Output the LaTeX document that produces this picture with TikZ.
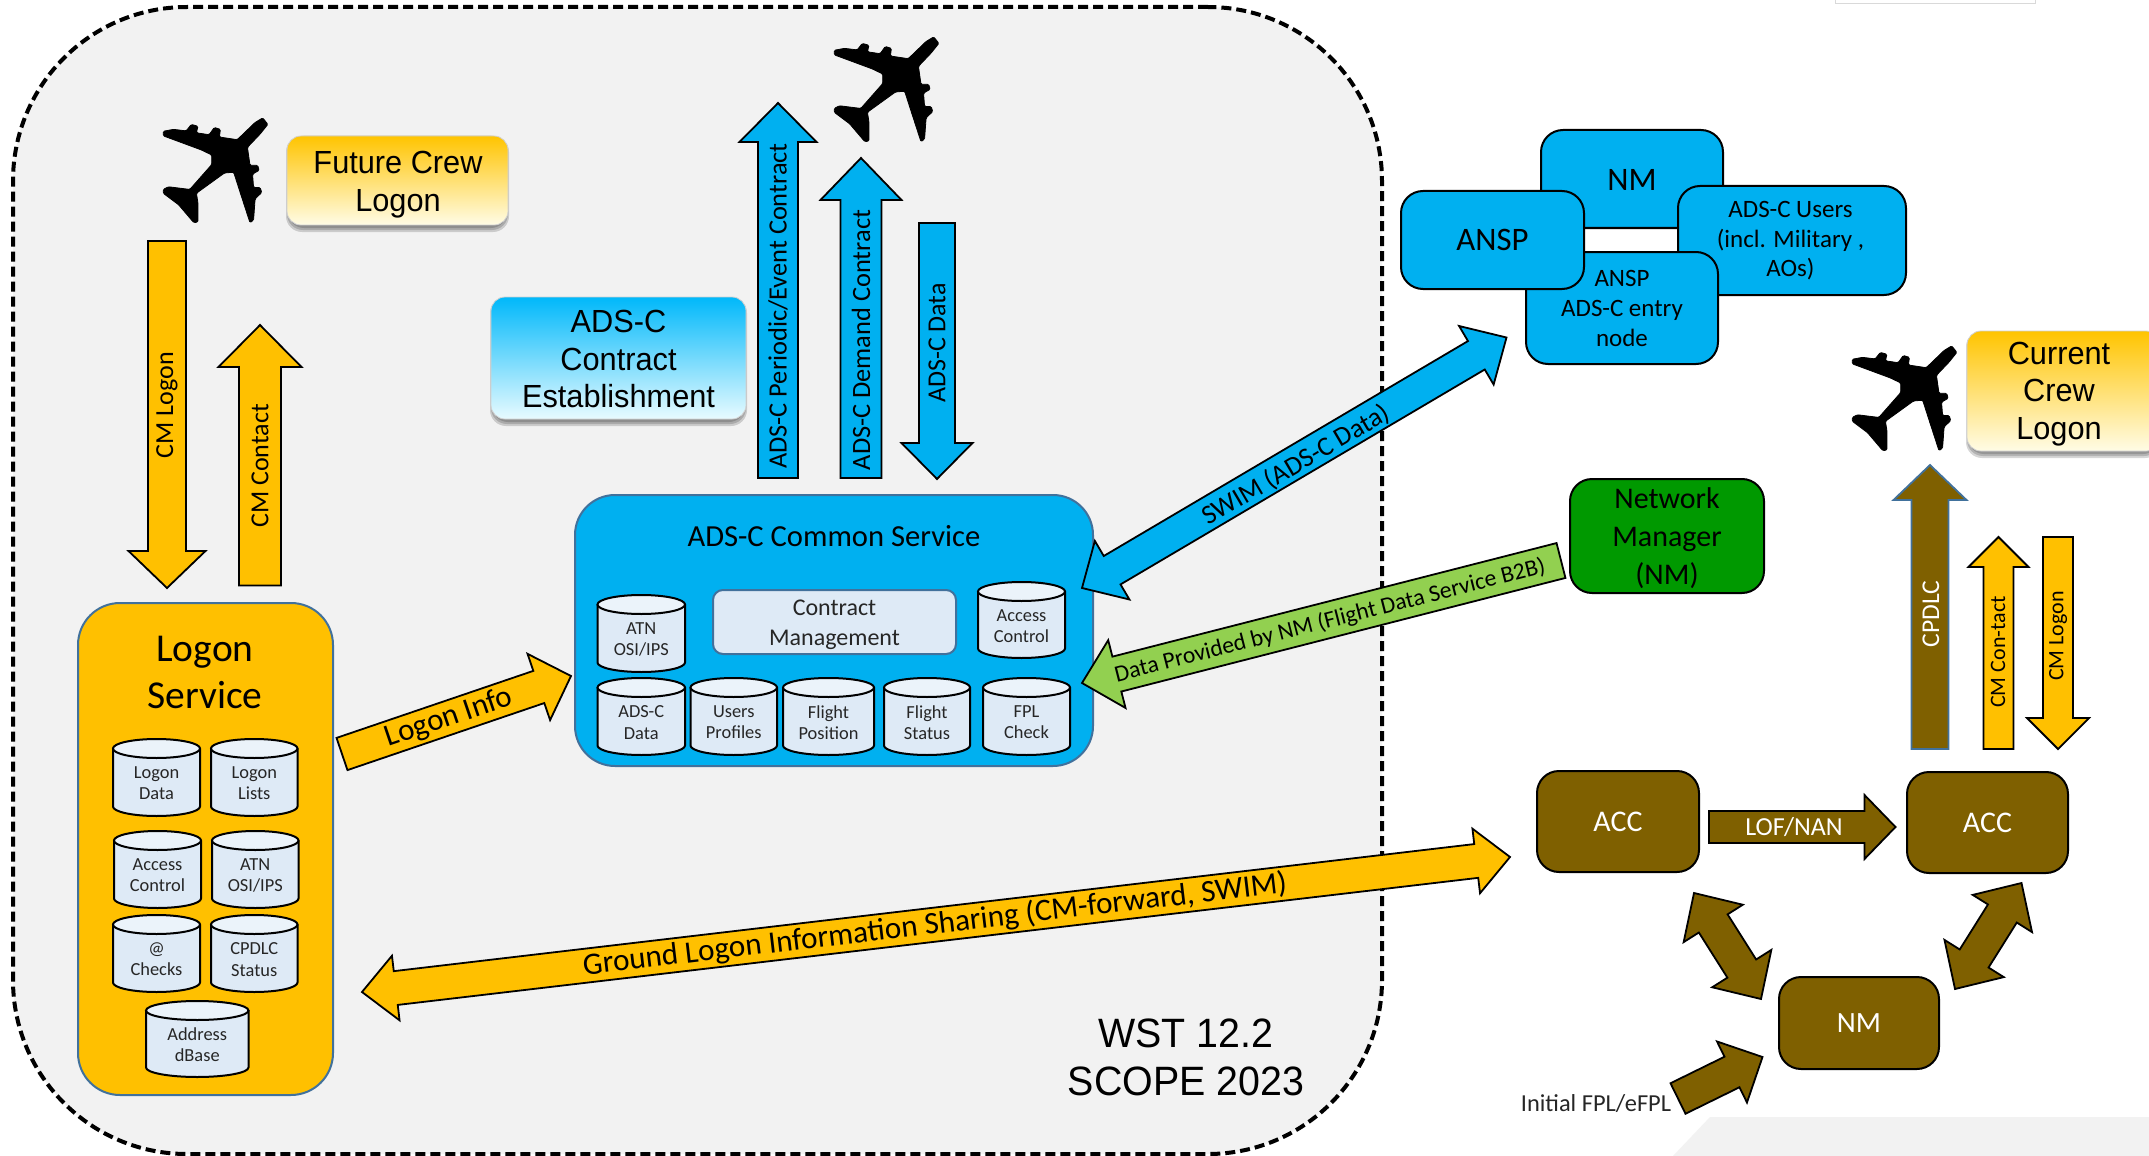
\documentclass[tikz,border=0pt]{standalone}
\usepackage{fontspec}
\setmainfont{Carlito}
\newfontfamily\arialf[FakeStretch=0.96]{Liberation Sans}
\usetikzlibrary{calc}
\definecolor{cgrey}{HTML}{F2F2F2}
\definecolor{corange}{HTML}{FFC000}
\definecolor{cblue}{HTML}{00B0F0}
\definecolor{cbrown}{HTML}{7F6000}
\definecolor{cgreen}{HTML}{92D050}
\definecolor{cdgreen}{HTML}{009900}
\definecolor{cedge}{HTML}{41719C}
\definecolor{cpale}{HTML}{DEEAF6}
\definecolor{cpaler}{HTML}{EBF3FA}
\definecolor{ctxt}{HTML}{262626}
\definecolor{gtop}{HTML}{FFC400}
\definecolor{gmid}{HTML}{FFE472}
\definecolor{gbot}{HTML}{FFFCE6}
\definecolor{btop}{HTML}{00B8FA}
\definecolor{bmid}{HTML}{5CD0FF}
\definecolor{bbot}{HTML}{E8FBFF}
\tikzset{
 boxbase/.style={inner sep=0pt,outer sep=0pt,align=center,line width=1pt},
 fs/.style 2 args={font=\fontsize{#1}{#2}\selectfont},
 lbl/.style={inner sep=0pt,outer sep=0pt,align=center},
 rlbl/.style={lbl,rotate=90},
 blackbox/.style={boxbase,draw=black,rounded corners=#1},
 bluebox/.style={blackbox=11pt,fill=cblue},
 brownbox/.style={blackbox=11pt,fill=cbrown,text=white,fs={15}{18}},
 cylbody/.style={draw=black,line width=1pt,fill=cpale,line join=round},
 cyltop/.style={draw=black,line width=1pt,fill=cpaler},
 cyltext/.style={lbl,text=ctxt,fs={9.2}{10.6}},
 arr/.style={draw=black,line width=0.9pt,line join=miter},
 headfont/.style={font=\arialf\fontsize{16}{18.7}\selectfont,lbl},
 goldbox/.style={boxbase,rounded corners=7pt,draw=black!18,line width=0.4pt,top color=gtop,middle color=gmid,bottom color=gbot},
 skybox/.style={boxbase,rounded corners=7pt,draw=black!18,line width=0.4pt,top color=btop,middle color=bmid,bottom color=bbot},
 softshadow/.style={fill=black,opacity=.16,rounded corners=8pt},
 planeshape/.pic={
  \path[fill=black,draw=black,line width=0.4pt,rounded corners=0.6pt,xscale=0.5102,yscale=0.3827]
  (515,308) -- (525,325) -- (510,350) -- (485,385) -- (490,432) -- (505,432) -- (508,445) -- (495,455)
  -- (497,490) -- (510,490) -- (513,503) -- (500,520) -- (497,575) -- (490,582) -- (470,500) -- (458,450)
  -- (440,452) -- (385,505) -- (388,530) -- (388,580) -- (380,582) -- (350,535) -- (320,505) -- (320,495)
  -- (330,488) -- (372,495) -- (415,430) -- (415,405) -- (395,392) -- (320,355) -- (320,343) -- (340,338)
  -- (365,342) -- (375,325) -- (388,330) -- (385,347) -- (410,352) -- (420,333) -- (432,338) -- (430,358)
  -- (465,365) -- (500,320) -- cycle;
 }
}
% name, x1, y1, x2, y2, style, text
\newcommand{\bx}[7]{\node[#6,minimum width={(#4-#2)*0.5pt},minimum height={(#5-#3)*0.5pt}] (#1) at ({(#2+#4)/2},{(#3+#5)/2}) {#7};}
% soft shadow below a box: x1, y1, x2, y2
\newcommand{\softsh}[4]{%
 \path[softshadow] (#1-1,#2) rectangle (#3+1,#4+7);
 \path[softshadow] (#1,#2) rectangle (#3,#4+5);
 \path[softshadow] (#1+1,#2) rectangle (#3-1,#4+3);}
% name, x1, y1, x2, y2, text
\newcommand{\cyl}[6]{%
 \draw[cylbody] (#2,#3+9.5) -- (#2,#5-9.5) arc[start angle=180,end angle=360,x radius={(#4-#2)*0.25pt},y radius=4.75pt] -- (#4,#3+9.5) -- cycle;
 \draw[cyltop] ({(#2+#4)/2},#3+9.5) ellipse[x radius={(#4-#2)*0.25pt},y radius=4.75pt];
 \node[cyltext] (#1) at ({(#2+#4)/2},{(#3+#5)/2+6}) {#6};}
% from, to, shaft, headw, headlen, style
\newcommand{\sarrow}[6]{%
 \coordinate (hb) at ($(#2)!#5*0.5pt!(#1)$);
 \path[#6] ($(#1)!#3*0.25pt!90:(#2)$) -- ($(hb)!#3*0.25pt!90:(#2)$) -- ($(hb)!#4*0.25pt!90:(#2)$) -- (#2)
  -- ($(hb)!#4*0.25pt!-90:(#2)$) -- ($(hb)!#3*0.25pt!-90:(#2)$) -- ($(#1)!#3*0.25pt!-90:(#2)$) -- cycle;}
\newcommand{\darrow}[6]{%
 \coordinate (hb) at ($(#2)!#5*0.5pt!(#1)$);
 \coordinate (ha) at ($(#1)!#5*0.5pt!(#2)$);
 \path[#6] (#1) -- ($(ha)!#4*0.25pt!90:(#2)$) -- ($(ha)!#3*0.25pt!90:(#2)$) -- ($(hb)!#3*0.25pt!90:(#2)$) -- ($(hb)!#4*0.25pt!90:(#2)$) -- (#2)
  -- ($(hb)!#4*0.25pt!-90:(#2)$) -- ($(hb)!#3*0.25pt!-90:(#2)$) -- ($(ha)!#3*0.25pt!-90:(#2)$) -- ($(ha)!#4*0.25pt!-90:(#2)$) -- cycle;}
\begin{document}
\begin{tikzpicture}[x=0.5pt,y=-0.5pt]
\path[use as bounding box] (0,0) rectangle (2149,1156);
\clip (0,0) rectangle (2149,1156);
\fill[white] (0,0) rectangle (2149,1156);
% background shapes
\fill[cgrey] (1673,1156) -- (1710,1117) -- (2149,1117) -- (2149,1156) -- cycle;
\draw[black!15,line width=0.5pt] (1835,0) -- (1835,4) -- (2035,4) -- (2035,0);
\bx{outer}{13}{7}{1382}{1154}{boxbase,draw=black,fill=cgrey,line width=2pt,dash pattern=on 5pt off 2.5pt,rounded corners=87pt}{}
% planes
\pic at (0,0) {planeshape};
\pic at (671,-81) {planeshape};
\pic at (1689,228) {planeshape};
% gradient boxes
\softsh{287}{136}{508}{225}
\bx{fcl}{287}{136}{508}{225}{goldbox}{}
\node[headfont] (fclt) at (398,184.5) {Future Crew\\Logon};
\softsh{491}{297}{746}{419}
\bx{adsc}{491}{297}{746}{419}{skybox}{}
\node[headfont] (adsct) at (618.5,359) {ADS-C\\Contract\\Establishment};
\softsh{1967}{331}{2160}{451}
\bx{ccl}{1967}{331}{2160}{451}{goldbox}{}
\node[headfont] (cclt) at (2059,394) {Current\\Crew\\Logon};
% Logon service
\bx{logon}{78}{603}{333}{1095}{boxbase,draw=cedge,fill=corange,rounded corners=21pt}{}
\node[lbl,fs={19.75}{23.5}] (logont) at (205,672) {Logon\\Service};
\cyl{c1}{113}{739}{200}{816}{Logon\\Data}
\cyl{c2}{211}{739}{297.5}{816}{Logon\\Lists}
\cyl{c3}{114}{831}{201}{908}{Access\\Control}
\cyl{c4}{212}{831}{298.5}{908}{ATN\\OSI/IPS}
\cyl{c5}{113}{915}{200}{992}{@\\Checks}
\cyl{c6}{211}{915}{297.5}{992}{CPDLC\\Status}
\cyl{c7}{146}{1001}{248.5}{1077}{Address\\dBase}
% Common service
\bx{common}{575}{495}{1093}{766}{boxbase,draw=cedge,fill=cblue,rounded corners=20pt}{}
\node[lbl,fs={15.3}{18}] (commont) at (834,536) {ADS-C Common Service};
\bx{contract}{713}{590}{956}{654}{boxbase,draw=cedge,fill=cpale,rounded corners=5pt}{}
\node[lbl,text=ctxt,fs={12}{15}] (contractt) at (834.5,625) {Contract\\Management};
\cyl{d1}{597.5}{595}{685}{672}{ATN\\OSI/IPS}
\cyl{d2}{597.5}{678}{685}{755}{ADS-C\\Data}
\cyl{d3}{690.5}{678}{777}{755}{Users\\Profiles}
\cyl{d4}{783}{678}{874}{755}{Flight\\Position}
\cyl{d5}{884}{678}{970}{755}{Flight\\Status}
\cyl{d6}{983}{678}{1070}{755}{FPL\\Check}
\cyl{d7}{978}{582}{1065}{658}{Access\\Control}
% blue cluster
\bx{nmtop}{1541}{130}{1723}{228}{bluebox}{}
\node[lbl,fs={16.4}{19}] (nmtopt) at (1632,180) {NM};
\bx{users}{1678}{186}{1906}{295}{bluebox}{}
\node[lbl,fs={12.5}{14.8}] (userst) at (1790.5,241) {ADS-C Users\\(incl. Military ,\\AOs)};
\bx{entry}{1526}{252}{1718}{364}{bluebox}{}
\node[lbl,fs={12.5}{15}] (entryt) at (1622,308) {ANSP\\ADS-C entry\\node};
\bx{ansp}{1401}{191}{1584}{289}{bluebox,fs={16.4}{19}}{ANSP}
\bx{netman}{1570}{479}{1764}{593}{blackbox=11pt,fill=cdgreen}{}
\node[lbl,fs={15}{19}] (netmant) at (1667,538) {Network\\Manager\\(NM)};
% ACC
\bx{accl}{1537}{771}{1699}{872}{brownbox}{ACC}
\bx{accr}{1907}{772}{2068}{873}{brownbox}{ACC}
\bx{nmb}{1779}{977}{1939}{1069}{brownbox,fs={14.7}{18}}{NM}
% connector end points
\coordinate (a1s) at (167,241); \coordinate (a1e) at (167,588);
\coordinate (a2s) at (260,585.5); \coordinate (a2e) at (260,325);
\coordinate (a3s) at (778,478); \coordinate (a3e) at (778,103);
\coordinate (a4s) at (861,478); \coordinate (a4e) at (861,158);
\coordinate (a5s) at (937,223); \coordinate (a5e) at (937,479);
\coordinate (a6s) at (342,754); \coordinate (a6e) at (571,676);
\coordinate (a7s) at (362,992); \coordinate (a7e) at (1510,857);
\coordinate (a8s) at (1082,588); \coordinate (a8e) at (1506.5,337.5);
\coordinate (a9s) at (1561,560.5); \coordinate (a9e) at (1082,683);
\coordinate (b1s) at (1930,749); \coordinate (b1e) at (1930,465);
\coordinate (b2s) at (1998.5,749); \coordinate (b2e) at (1998.5,537);
\coordinate (b3s) at (2058,537); \coordinate (b3e) at (2058,749);
\coordinate (b4s) at (1709,827); \coordinate (b4e) at (1895.5,827);
\coordinate (b5s) at (1694,893); \coordinate (b5e) at (1761,999);
\coordinate (b6s) at (1955,989); \coordinate (b6e) at (2021.5,883);
\coordinate (b7s) at (1678,1098.5); \coordinate (b7e) at (1762.5,1057);
% arrows
\sarrow{a1s}{a1e}{38}{77}{37}{arr,fill=corange}
\sarrow{a2s}{a2e}{42}{83}{42}{arr,fill=corange}
\sarrow{a3s}{a3e}{40}{77}{39}{arr,fill=cblue}
\sarrow{a4s}{a4e}{41}{81}{42}{arr,fill=cblue}
\sarrow{a5s}{a5e}{36}{71}{36}{arr,fill=cblue}
\sarrow{a6s}{a6e}{34}{70}{34}{arr,fill=corange}
\darrow{a7s}{a7e}{34}{65}{34}{arr,fill=corange}
\darrow{a8s}{a8e}{33}{68}{35}{arr,fill=cblue}
\sarrow{a9s}{a9e}{36}{70}{36}{arr,fill=cgreen}
\sarrow{b1s}{b1e}{37}{73}{35}{draw=cedge,line width=0.9pt,fill=cbrown}
\sarrow{b2s}{b2e}{30}{60}{30}{arr,fill=corange}
\sarrow{b3s}{b3e}{30}{62}{31}{arr,fill=corange}
\sarrow{b4s}{b4e}{32}{64}{31}{arr,fill=cbrown}
\darrow{b5s}{b5e}{34}{70}{36}{arr,fill=cbrown}
\darrow{b6s}{b6e}{34}{70}{36}{arr,fill=cbrown}
\sarrow{b7s}{b7e}{34}{68}{34}{arr,fill=cbrown}
% arrow labels
\node[rlbl,fs={13}{15}] (l1) at (167,405) {CM Logon};
\node[rlbl,fs={13}{15}] (l2) at (260,466) {CM Contact};
\node[rlbl,fs={13.2}{15}] (l3) at (778,306) {ADS-C Periodic/Event Contract};
\node[rlbl,fs={13.2}{15}] (l4) at (861,340) {ADS-C Demand Contract};
\node[rlbl,fs={13}{15}] (l5) at (937,343) {ADS-C Data};
\node[lbl,rotate=18.8,fs={15.5}{18}] (l6) at (449,718) {Logon Info};
\node[lbl,rotate=6.7,fs={15.6}{18}] (l7) at (935,925) {Ground Logon Information Sharing (CM-forward, SWIM)};
\node[lbl,rotate=30.5,fs={13.5}{16}] (l8) at (1296,465) {SWIM (ADS-C Data)};
\node[lbl,rotate=14.3,fs={11.8}{14}] (l9) at (1330,621) {Data Provided by NM (Flight Data Service B2B)};
\node[rlbl,text=white,fs={12.8}{15}] (m1) at (1931,614) {CPDLC};
\node[rlbl,fs={11}{13}] (m2) at (1998,652) {CM Con-tact};
\node[rlbl,fs={11}{13}] (m3) at (2058,636) {CM Logon};
\node[lbl,text=white,fs={13}{15}] (m4) at (1794,827) {LOF/NAN};
\node[lbl,text=ctxt,fs={12.2}{14}] (m5) at (1596,1104) {Initial FPL/eFPL};
\node[lbl,font=\arialf\fontsize{20.5}{24}\selectfont] (wst) at (1186,1057) {WST 12.2\\SCOPE 2023};
\end{tikzpicture}
\end{document}
